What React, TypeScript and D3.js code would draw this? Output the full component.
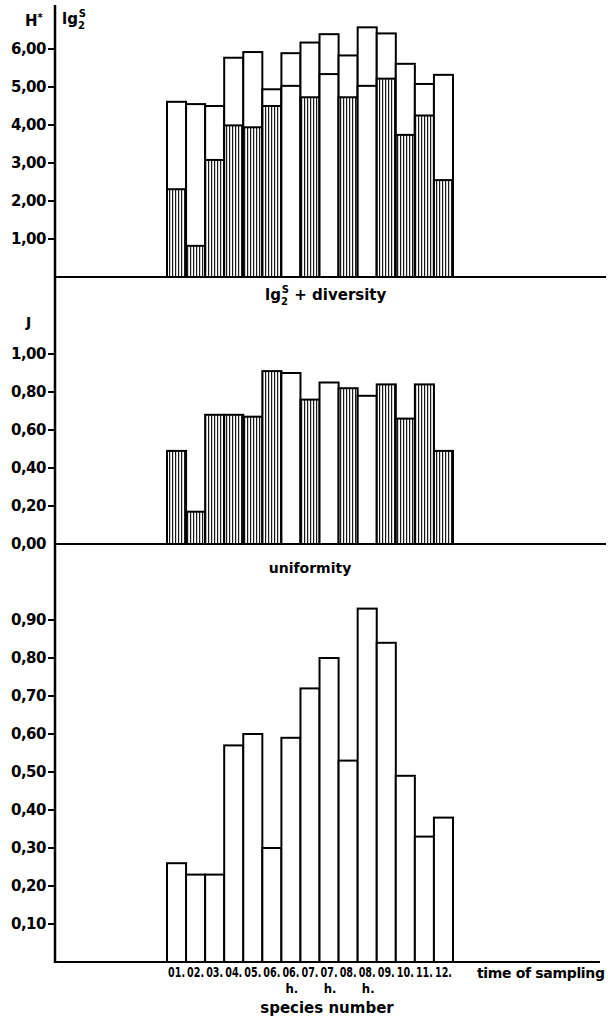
import React from 'react';
import * as d3 from 'd3';

// sampling times, ".h." marks the hourly samples (white lower part)
const categories = ['01.', '02.', '03.', '04.', '05.', '06.', '06.h.', '07.', '07.h.', '08.', '08.h.', '09.', '10.', '11.', '12.'];
const lg2S = [4.61, 4.55, 4.5, 5.77, 5.92, 4.94, 5.89, 6.17, 6.39, 5.83, 6.57, 6.41, 5.61, 5.08, 5.32];
const diversity = [2.31, 0.82, 3.08, 3.99, 3.94, 4.5, 5.03, 4.73, 5.34, 4.73, 5.03, 5.22, 3.74, 4.25, 2.55];
const uniformity = [0.49, 0.17, 0.68, 0.68, 0.67, 0.91, 0.9, 0.76, 0.85, 0.82, 0.78, 0.84, 0.66, 0.84, 0.49];
const speciesNumber = [0.26, 0.23, 0.23, 0.57, 0.6, 0.3, 0.59, 0.72, 0.8, 0.53, 0.93, 0.84, 0.49, 0.33, 0.38];

const topTicks = [1, 2, 3, 4, 5, 6];
const midTicks = [0, 0.2, 0.4, 0.6, 0.8, 1.0];
const botTicks = [0.1, 0.2, 0.3, 0.4, 0.5, 0.6, 0.7, 0.8, 0.9];

const W = 608;
const H = 1025;
const axisX = 55;
const font = '"DejaVu Sans", sans-serif';
const condensed = '"DejaVu Sans Condensed", "DejaVu Sans", sans-serif';

const fmt = (v: number) => v.toFixed(2).replace('.', ',');
const isHour = (c: string) => c.endsWith('h.');

const x = d3.scaleBand().domain(categories).range([167, 453]).paddingInner(0);
const yTop = d3.scaleLinear().domain([0, 6]).range([277, 49]);
const yMid = d3.scaleLinear().domain([0, 1]).range([544, 354]);
const yBot = d3.scaleLinear().domain([0, 0.9]).range([962, 620]);

const Ticks = ({ ticks, y, skipZero }: { ticks: number[]; y: d3.ScaleLinear<number, number>; skipZero?: boolean }) => (
  <g>
    {ticks.map(t => (
      <g key={t}>
        {!(skipZero && t === 0) && <line x1={48} x2={axisX} y1={y(t)} y2={y(t)} stroke="#000" strokeWidth={2} />}
        <text x={46} y={y(t)} dy="0.36em" textAnchor="end" fontFamily={font} fontWeight="bold" fontSize={15} letterSpacing={-0.5}>
          {fmt(t)}
        </text>
      </g>
    ))}
  </g>
);

export default function App() {
  const bw = x.bandwidth();
  return (
    <svg width={W} height={H} style={{ position: 'absolute', left: 0, top: 0, background: '#fff' }}>
      <defs>
        <pattern id="hatch" width={3} height={4} patternUnits="userSpaceOnUse">
          <rect x={0} y={0} width={3} height={4} fill="#fff" />
          <rect x={1} y={0} width={1.2} height={4} fill="#1a1a1a" />
        </pattern>
      </defs>

      {/* top panel: lg2S + diversity */}
      {categories.map((c, i) => (
        <g key={'t' + c}>
          <rect x={x(c)} y={yTop(lg2S[i])} width={bw} height={yTop(0) - yTop(lg2S[i])} fill="#fff" stroke="#000" strokeWidth={2} />
          <rect x={x(c)} y={yTop(diversity[i])} width={bw} height={yTop(0) - yTop(diversity[i])}
            fill={isHour(c) ? '#fff' : 'url(#hatch)'} stroke="#000" strokeWidth={2} />
        </g>
      ))}
      <line x1={axisX} x2={606} y1={yTop(0)} y2={yTop(0)} stroke="#000" strokeWidth={2} />
      <Ticks ticks={topTicks} y={yTop} />
      <text x={25} y={26} fontFamily={font} fontWeight="bold" fontSize={15}>H<tspan fontSize={10} dy={-5}>*</tspan></text>
      <text x={62} y={24} fontFamily={font} fontWeight="bold" fontSize={15}>
        lg<tspan fontSize={10} dy={5}>2</tspan><tspan fontSize={10} dx={-6} dy={-12}>S</tspan>
      </text>

      {/* middle panel: uniformity J */}
      {categories.map((c, i) => (
        <rect key={'m' + c} x={x(c)} y={yMid(uniformity[i])} width={bw} height={yMid(0) - yMid(uniformity[i])}
          fill={isHour(c) ? '#fff' : 'url(#hatch)'} stroke="#000" strokeWidth={2} />
      ))}
      <line x1={axisX} x2={606} y1={yMid(0)} y2={yMid(0)} stroke="#000" strokeWidth={2} />
      <Ticks ticks={midTicks} y={yMid} skipZero />
      <text x={26} y={327} fontFamily={font} fontWeight="bold" fontSize={14}>J</text>
      <text x={265} y={300} fontFamily={font} fontWeight="bold" fontSize={15}>
        lg<tspan fontSize={10} dy={5}>2</tspan><tspan fontSize={10} dx={-6} dy={-12}>S</tspan><tspan dy={7}> + diversity</tspan>
      </text>
      <text x={310} y={573} textAnchor="middle" fontFamily={font} fontWeight="bold" fontSize={14}>uniformity</text>

      {/* bottom panel: species number */}
      {categories.map((c, i) => (
        <rect key={'b' + c} x={x(c)} y={yBot(speciesNumber[i])} width={bw} height={yBot(0) - yBot(speciesNumber[i])}
          fill="#fff" stroke="#000" strokeWidth={2} />
      ))}
      <line x1={axisX} x2={600} y1={yBot(0)} y2={yBot(0)} stroke="#000" strokeWidth={2} />
      <Ticks ticks={botTicks} y={yBot} />

      {/* category labels */}
      {categories.map(c => (
        <g key={'l' + c}>
          <text x={(x(c) as number) + bw / 2} y={977} textAnchor="middle" fontFamily={condensed} fontWeight="bold"
            fontSize={14} textLength={17} lengthAdjust="spacingAndGlyphs">{c.slice(0, 3)}</text>
          {isHour(c) && (
            <text x={(x(c) as number) + bw / 2 + 1} y={993} textAnchor="middle" fontFamily={condensed} fontWeight="bold" fontSize={13}>h.</text>
          )}
        </g>
      ))}
      <text x={477} y={978} fontFamily={font} fontWeight="bold" fontSize={14} textLength={128}>time of sampling</text>
      <text x={327} y={1013} textAnchor="middle" fontFamily={font} fontWeight="bold" fontSize={15}>species number</text>

      {/* left axis */}
      <line x1={axisX} x2={axisX} y1={5} y2={963} stroke="#000" strokeWidth={2.5} />
    </svg>
  );
}
